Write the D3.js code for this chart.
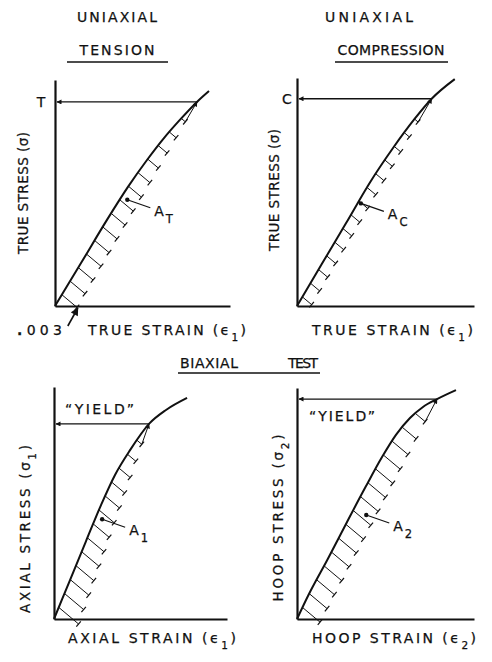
<!DOCTYPE html>
<html>
<head>
<meta charset="utf-8">
<script src="https://cdn.jsdelivr.net/npm/d3@7"></script>
<style>
  body { margin: 0; background: #fff; }
  text { font-family: "DejaVu Sans", sans-serif; fill: #111; stroke: #111; stroke-width: 0.25; }
</style>
</head>
<body>
<div id="chart"></div>
<script>
// strain in units of 0.001, stress in % of full scale
var tensionStrain = [0, 3.42, 6.83, 9.59, 12.09, 14.32, 16.29, 18.66, 20.24];
var tensionStress = [0, 19.0, 38.1, 52.7, 64.6, 74.3, 81.9, 90.3, 95.1];
var tensionYield = [18.66, 90.3];
var tensionOffset = 3;
var tensionHatch = [5, 11, 17, 23, 29, 35, 41, 47, 53, 59, 65, 71, 77, 83];
var tensionNote = [9.5, 47];

var compStrain = [0, 3.2, 6.4, 9.5, 12.5, 15.2, 17.5, 20.5];
var compStress = [0, 18.3, 36.5, 54.3, 69.4, 81.7, 90.9, 99.5];
var compYield = [17.5, 90.9];
var compOffset = 1.8;
var compHatch = [4, 10, 16, 22, 28, 34, 40, 46, 52, 58, 64, 70, 76, 82];
var compNote = [8.3, 45];

var axialStrain = [0, 2.13, 4.26, 6.25, 8.11, 10.11, 12.63, 14.89, 17.69];
var axialStress = [0, 16.8, 33.6, 49.1, 62.1, 72.8, 84.1, 90.1, 95.3];
var axialYield = [12.63, 84.1];
var axialOffset = 3.5;
var axialHatch = [5, 11, 17, 23, 29, 35, 41, 47, 53, 59, 65, 71, 77];
var axialNote = [6.4, 43];

var hoopStrain = [0, 1.49, 4.00, 6.50, 8.90, 11.05, 12.86, 14.68, 16.37, 18.19, 20.66];
var hoopStress = [0, 10.4, 26.0, 42.0, 57.1, 70.1, 79.7, 87.0, 91.8, 95.2, 99.1];
var hoopYield = [18.19, 95.2];
var hoopOffset = 3.2;
var hoopHatch = [5, 11, 17, 23, 29, 35, 41, 47, 53, 59, 65, 71, 77, 83, 89];
var hoopNote = [9.0, 45];

var W = 492, H = 662;
var svg = d3.select("#chart").append("svg")
  .attr("width", W)
  .attr("height", H);

var defs = svg.append("defs");
function marker(id, w, h) {
  defs.append("marker")
    .attr("id", id)
    .attr("viewBox", "0 0 10 10")
    .attr("refX", 9).attr("refY", 5)
    .attr("markerWidth", w).attr("markerHeight", h)
    .attr("markerUnits", "userSpaceOnUse")
    .attr("orient", "auto")
    .append("path").attr("d", "M0,0L10,5L0,10z").attr("fill", "#111");
}
marker("head", 8, 5);
marker("small", 6, 5);
marker("big", 9, 8);

var panels = [
  { strain: tensionStrain, stress: tensionStress, yld: tensionYield, offset: tensionOffset,
    hatch: tensionHatch, note: tensionNote, noteSub: "T", xMax: 23,
    left: 55, right: 230, top: 80, bottom: 306 },
  { strain: compStrain, stress: compStress, yld: compYield, offset: compOffset,
    hatch: compHatch, note: compNote, noteSub: "C", xMax: 23,
    left: 297, right: 474, top: 78, bottom: 306 },
  { strain: axialStrain, stress: axialStress, yld: axialYield, offset: axialOffset,
    hatch: axialHatch, note: axialNote, noteSub: "1", xMax: 23,
    left: 54, right: 227, top: 387, bottom: 619 },
  { strain: hoopStrain, stress: hoopStress, yld: hoopYield, offset: hoopOffset,
    hatch: hoopHatch, note: hoopNote, noteSub: "2", xMax: 23,
    left: 297, right: 474, top: 388, bottom: 619 }
];

function strainAt(p, s) {
  for (var i = 1; i < p.stress.length; i++) {
    if (s <= p.stress[i]) {
      var f = (s - p.stress[i - 1]) / (p.stress[i] - p.stress[i - 1]);
      return p.strain[i - 1] + f * (p.strain[i] - p.strain[i - 1]);
    }
  }
  return p.strain[p.strain.length - 1];
}

function drawPanel(p) {
  var x = d3.scaleLinear().domain([0, p.xMax]).range([p.left, p.right]);
  var y = d3.scaleLinear().domain([0, 100]).range([p.bottom, p.top]);
  p.x = x; p.y = y;
  var g = svg.append("g");

  g.append("g")
    .attr("transform", "translate(" + p.left + ",0)")
    .call(d3.axisLeft(y).ticks(0).tickSizeOuter(0))
    .select(".domain").attr("stroke", "#111").attr("stroke-width", 2.2);
  g.append("g")
    .attr("transform", "translate(0," + p.bottom + ")")
    .call(d3.axisBottom(x).ticks(0).tickSizeOuter(0))
    .select(".domain").attr("stroke", "#111").attr("stroke-width", 2.2);

  var pts = p.strain.map(function (d, i) { return [d, p.stress[i]]; });
  g.append("path")
    .datum(pts)
    .attr("fill", "none")
    .attr("stroke", "#111")
    .attr("stroke-width", 2)
    .attr("d", d3.line().x(function (d) { return x(d[0]); })
      .y(function (d) { return y(d[1]); })
      .curve(d3.curveMonotoneX));

  // unloading line (offset) seen only through the hatching ends
  var A = [x(p.offset), y(0)], B = [x(p.yld[0]), y(p.yld[1])];
  var e = [B[0] - A[0], B[1] - A[1]];
  var ang = 40 * Math.PI / 180, dv = [Math.cos(ang), Math.sin(ang)];
  var last = A;
  p.hatch.forEach(function (s) {
    var P = [x(strainAt(p, s)), y(s)];
    var det = -dv[0] * e[1] + e[0] * dv[1];
    var t = ((A[0] - P[0]) * (-e[1]) + e[0] * (A[1] - P[1])) / det;
    var Q = [P[0] + t * dv[0], P[1] + t * dv[1]];
    g.append("line")
      .attr("x1", P[0]).attr("y1", P[1]).attr("x2", Q[0]).attr("y2", Q[1])
      .attr("stroke", "#111").attr("stroke-width", 1);
    g.append("line")
      .attr("x1", Q[0] - 3.5 * dv[1]).attr("y1", Q[1] + 3.5 * dv[0])
      .attr("x2", Q[0] + 3.5 * dv[1]).attr("y2", Q[1] - 3.5 * dv[0])
      .attr("stroke", "#111").attr("stroke-width", 1.2);
    last = Q;
  });
  g.append("line")
    .attr("x1", last[0]).attr("y1", last[1]).attr("x2", B[0]).attr("y2", B[1])
    .attr("stroke", "#111").attr("stroke-width", 1)
    .attr("marker-end", "url(#small)");

  // yield arrow back to the stress axis
  g.append("line")
    .attr("x1", B[0]).attr("y1", B[1]).attr("x2", p.left + 2).attr("y2", B[1])
    .attr("stroke", "#111").attr("stroke-width", 1.4)
    .attr("marker-end", "url(#head)");

  // area note
  var N = [x(p.note[0]), y(p.note[1])];
  g.append("circle").attr("cx", N[0]).attr("cy", N[1]).attr("r", 2.2).attr("fill", "#111");
  g.append("line")
    .attr("x1", N[0]).attr("y1", N[1]).attr("x2", N[0] + 23).attr("y2", N[1] + 8)
    .attr("stroke", "#111").attr("stroke-width", 1.2);
  var t = g.append("text").attr("x", N[0] + 27).attr("y", N[1] + 16)
    .attr("font-size", 14).text("A");
  t.append("tspan").attr("dx", 2).attr("dy", 7).attr("font-size", 11.5).text(p.noteSub);
}

panels.forEach(drawPanel);

function label(x, y, size, opts) {
  opts = opts || {};
  var t = svg.append("text")
    .attr("x", x).attr("y", y)
    .attr("font-size", size)
    .attr("text-anchor", opts.anchor || "start");
  if (opts.len) t.attr("textLength", opts.len).attr("lengthAdjust", "spacing");
  if (opts.rot) t.attr("transform", "rotate(-90," + x + "," + y + ")");
  return t;
}
function withSub(t, main, sub, tail) {
  t.append("tspan").text(main);
  t.append("tspan").attr("dy", 6).attr("font-size", 10.5).text(sub);
  t.append("tspan").attr("dy", -6).text(tail);
}

// titles
label(117, 22, 14, { anchor: "middle", len: 80 }).text("UNIAXIAL");
label(117, 55, 14, { anchor: "middle", len: 75 }).text("TENSION");
label(369, 22, 14, { anchor: "middle", len: 88 }).text("UNIAXIAL");
label(391, 55, 14, { anchor: "middle", len: 107 }).text("COMPRESSION");
label(180, 368, 14, { len: 58 }).text("BIAXIAL");
label(288, 368, 14, { len: 30 }).text("TEST");
[[67, 168, 62], [335, 448, 62], [178, 320, 373]].forEach(function (u) {
  svg.append("line").attr("x1", u[0]).attr("x2", u[1]).attr("y1", u[2]).attr("y2", u[2])
    .attr("stroke", "#111").attr("stroke-width", 1.6);
});

// stress axis titles
label(28, 193, 13.5, { anchor: "middle", rot: true, len: 122 }).text("TRUE STRESS (σ)");
label(279, 190, 13.5, { anchor: "middle", rot: true, len: 122 }).text("TRUE STRESS (σ)");
withSub(label(30, 529, 13.5, { anchor: "middle", rot: true, len: 168 }), "AXIAL STRESS (σ", "1", ")");
withSub(label(283, 518, 13.5, { anchor: "middle", rot: true, len: 167 }), "HOOP STRESS (σ", "2", ")");

// strain axis titles
var z = label(17, 335, 14, { len: 45 });
z.append("tspan").attr("font-weight", "bold").text(".");
z.append("tspan").text("003");
withSub(label(88, 335, 14, { len: 158 }), "TRUE  STRAIN (ϵ", "1", ")");
withSub(label(312, 335, 14, { len: 161 }), "TRUE  STRAIN (ϵ", "1", ")");
withSub(label(68, 643, 14, { len: 168 }), "AXIAL STRAIN (ϵ", "1", ")");
withSub(label(312, 643, 14, { len: 164 }), "HOOP STRAIN (ϵ", "2", ")");

// .003 pointer to the offset on the strain axis
var p0 = panels[0];
svg.append("line")
  .attr("x1", p0.x(p0.offset) - 10).attr("y1", p0.bottom + 20)
  .attr("x2", p0.x(p0.offset)).attr("y2", p0.bottom + 2)
  .attr("stroke", "#111").attr("stroke-width", 1.6)
  .attr("marker-end", "url(#big)");

// yield markers
label(41, panels[0].y(panels[0].yld[1]) + 5, 14, { anchor: "middle" }).text("T");
label(287, panels[1].y(panels[1].yld[1]) + 5, 14, { anchor: "middle" }).text("C");
label(65, panels[2].y(panels[2].yld[1]) - 10, 14, { len: 69 }).text("\u201CYIELD\u201D");
label(309, panels[3].y(panels[3].yld[1]) + 22, 14, { len: 66 }).text("\u201CYIELD\u201D");
</script>
</body>
</html>
